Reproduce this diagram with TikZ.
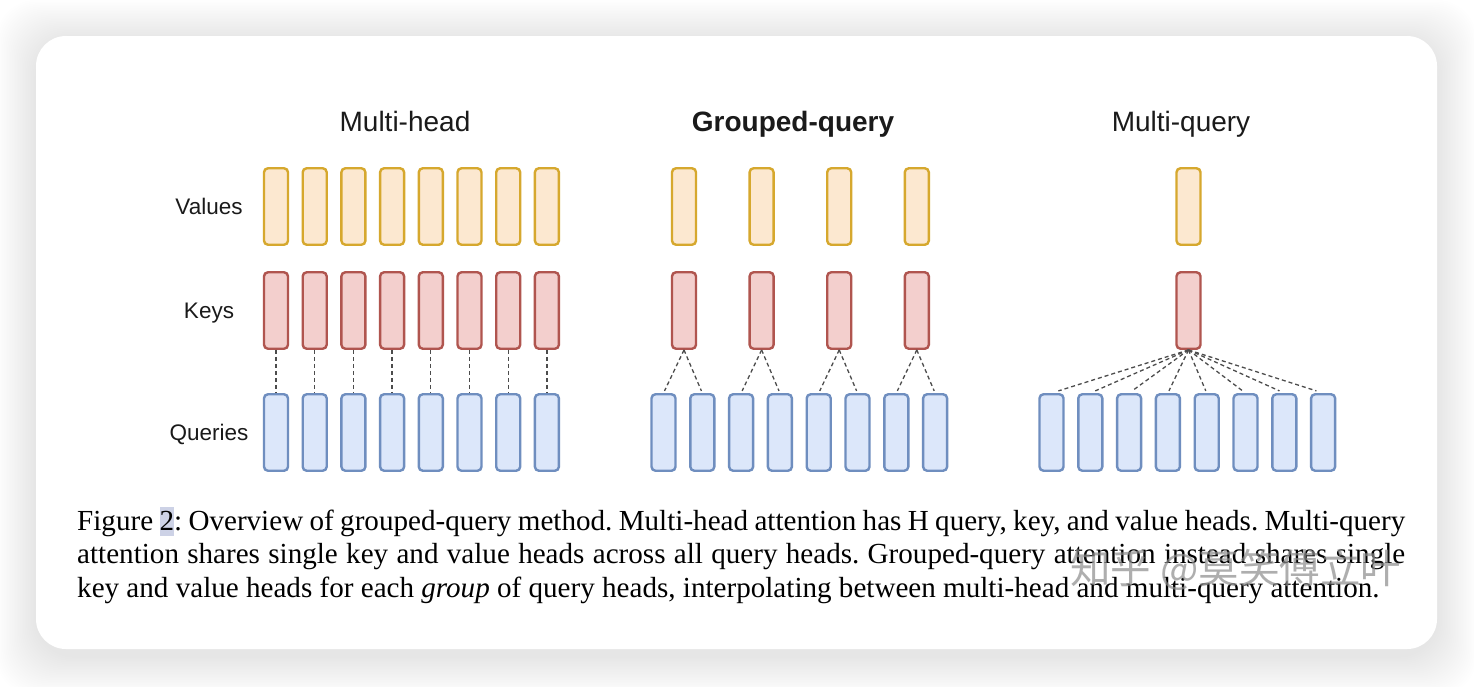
\documentclass[tikz,border=0pt]{standalone}
\usepackage{fontspec}
\setmainfont{Liberation Serif}
\newfontfamily\arialf{Liberation Sans}
\newfontfamily\cjkf{Noto Sans CJK SC}
\usetikzlibrary{calc}
\definecolor{valfill}{HTML}{FCE8D0}
\definecolor{valdraw}{HTML}{D6A82E}
\definecolor{keyfill}{HTML}{F3CFCD}
\definecolor{keydraw}{HTML}{B0554F}
\definecolor{qfill}{HTML}{DCE7FA}
\definecolor{qdraw}{HTML}{6F8EBF}
\definecolor{hlcol}{HTML}{CDD2E6}
\definecolor{txt}{HTML}{1A1A1A}
\newcommand\hlbox[1]{\setbox0=\hbox{#1}\rlap{\textcolor{hlcol}{\rule[-0.2em]{\wd0}{1.02em}}}#1}
\tikzset{
  headbox/.style={rounded corners=4pt, line width=2.4pt, minimum width=24pt, minimum height=76.5pt, inner sep=0pt},
  vbox/.style={headbox, fill=valfill, draw=valdraw},
  kbox/.style={headbox, fill=keyfill, draw=keydraw},
  qbox/.style={headbox, fill=qfill, draw=qdraw},
  link/.style={draw=black!70, line width=1.3pt, dash pattern=on 4pt off 3pt},
  title/.style={font=\arialf\fontsize{28}{32}\selectfont, text=txt, inner sep=0pt, anchor=base},
  rowlabel/.style={font=\arialf\fontsize{22.5}{26}\selectfont, text=txt, inner sep=0pt, anchor=base},
  capline/.style={font=\fontsize{29.1}{34}\selectfont, text=black, inner sep=0pt, anchor=base west}
}
\begin{document}
\begin{tikzpicture}[x=1pt,y=-1pt]
\useasboundingbox (0,0) rectangle (1474,686);
% background and card shadow
\fill[white] (0,0) rectangle (1474,686);
\foreach \i in {1,...,25} {
  \fill[black, fill opacity=0.0052, rounded corners=40pt]
    ({36-1.6*\i},{40-1.6*\i}) rectangle ({1437+1.6*\i},{656+1.6*\i});
}
\fill[white, rounded corners=30pt] (36,36) rectangle (1437,649);

% titles
\node[title] (t1) at (405,131) {Multi-head};
\node[title, font=\arialf\bfseries\fontsize{28}{32}\selectfont] (t2) at (793,131) {Grouped-query};
\node[title] (t3) at (1181,131) {Multi-query};

% row labels
\node[rowlabel] (lv) at (209,214.5) {Values};
\node[rowlabel] (lk) at (209,318) {Keys};
\node[rowlabel] (lq) at (209,440) {Queries};

% Multi-head
\foreach \i in {0,...,7} {
  \node[vbox] (mv\i) at ({276+38.7*\i},206.5) {};
  \node[kbox] (mk\i) at ({276+38.7*\i},310.5) {};
  \node[qbox] (mq\i) at ({276+38.7*\i},432.5) {};
  \draw[link] (mk\i.south) -- (mq\i.north);
}

% Grouped-query
\foreach \i in {0,...,7} {
  \node[qbox] (gq\i) at ({663.5+38.8*\i},432.5) {};
}
\foreach \j in {0,...,3} {
  \node[vbox] (gv\j) at ({684+77.6*\j},206.5) {};
  \node[kbox] (gk\j) at ({684+77.6*\j},310.5) {};
}
\foreach \j/\a/\b in {0/0/1,1/2/3,2/4/5,3/6/7} {
  \draw[link] (gk\j.south) -- ($(gq\a.north)!0.05!(gk\j.south)$);
  \draw[link] (gk\j.south) -- ($(gq\b.north)!0.05!(gk\j.south)$);
}

% Multi-query
\node[vbox] (qv) at (1188.5,206.5) {};
\node[kbox] (qk) at (1188.5,310.5) {};
\foreach \i in {0,...,7} {
  \node[qbox] (qq\i) at ({1051.5+38.8*\i},432.5) {};
  \draw[link] (qk.south) -- ($(qq\i.north)!0.05!(qk.south)$);
}

% caption
\node[capline] (c1) at (77,528) {\parbox{1328pt}{\frenchspacing\parfillskip=0pt Figure \hlbox{2}: Overview of grouped-query method. Multi-head attention has H query, key, and value heads. Multi-query}};
\node[capline] (c2) at (77,563) {\parbox{1328pt}{\frenchspacing\parfillskip=0pt attention shares single key and value heads across all query heads. Grouped-query attention instead shares single}};
\node[capline] (c3) at (77,597) {\frenchspacing key and value heads for each \textit{group} of query heads, interpolating between multi-head and multi-query attention.};

% watermark
\node[font=\cjkf\fontsize{40.5}{42}\selectfont, text=black!45, text opacity=0.7, anchor=west, inner sep=0pt] (wm) at (1070,570) {知乎 @莫笑傅立叶};
\end{tikzpicture}
\end{document}
